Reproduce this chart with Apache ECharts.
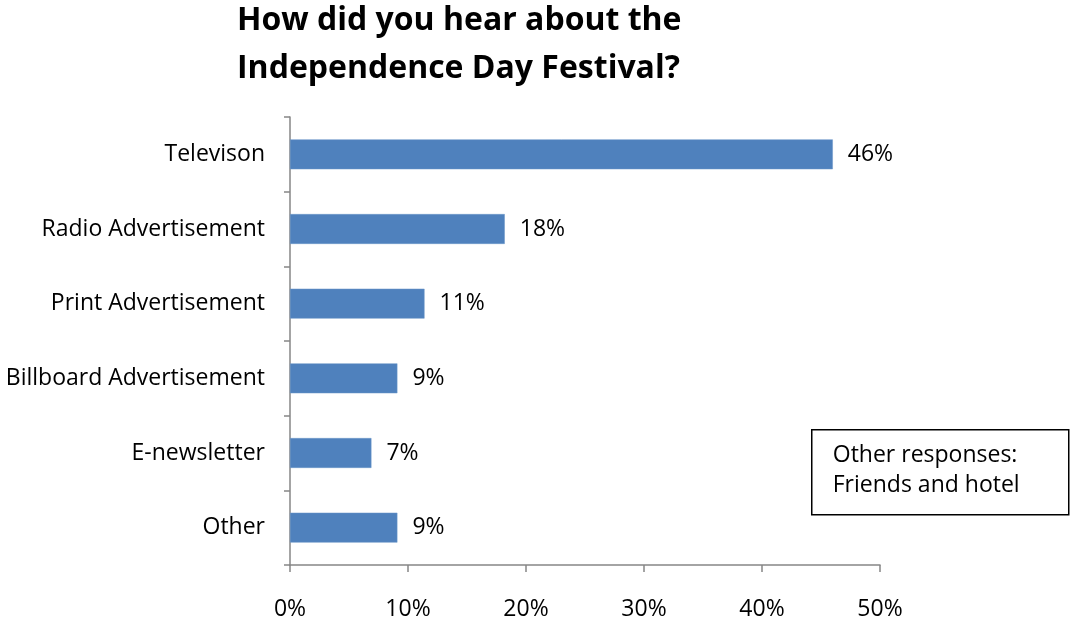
<!DOCTYPE html>
<html>
<head>
<meta charset="utf-8">
<script src="https://cdn.jsdelivr.net/npm/echarts@6/dist/echarts.min.js"></script>
<style>html,body{margin:0;padding:0;background:#fff}#c{width:1073px;height:624px}</style>
</head>
<body>
<div id="c"></div>
<script>
var categories = ["Televison", "Radio Advertisement", "Print Advertisement", "Billboard Advertisement", "E-newsletter", "Other"];
var values = [46.0, 18.2, 11.4, 9.1, 6.9, 9.1];
var valueLabels = ["46%", "18%", "11%", "9%", "7%", "9%"];
var xTicks = [0, 10, 20, 30, 40, 50];
var titleLines = ["How did you hear about the", "Independence Day Festival?"];
var noteLines = ["Other responses:", "Friends and hotel"];

var FONT = 'Open Sans';
var chart = echarts.init(document.getElementById('c'));
chart.setOption({
  animation: false,
  title: {
    text: titleLines.join('\n'),
    left: 232, top: -8,
    textStyle: { fontFamily: FONT, fontWeight: 'bold', fontSize: 32, lineHeight: 48, color: '#000' }
  },
  grid: { left: 290, right: 193, top: 117, bottom: 59 },
  xAxis: {
    type: 'value', min: xTicks[0], max: xTicks[xTicks.length - 1], interval: xTicks[1] - xTicks[0],
    axisLine: { show: true, lineStyle: { color: '#868686', width: 1.5 } },
    axisTick: { show: true, length: 7, lineStyle: { color: '#868686', width: 1.5 } },
    splitLine: { show: false },
    axisLabel: { margin: 33, fontFamily: FONT, fontSize: 23, color: '#000', formatter: function (v) { return v + '%'; } }
  },
  yAxis: {
    type: 'category', data: categories, inverse: true,
    axisLine: { show: true, lineStyle: { color: '#868686', width: 1.5 } },
    axisTick: { show: true, length: 6, lineStyle: { color: '#868686', width: 1.5 } },
    axisLabel: { margin: 25, fontFamily: FONT, fontSize: 23, color: '#000' }
  },
  series: [{
    type: 'bar', data: values, barWidth: '40%',
    itemStyle: { color: '#4F81BD', borderColor: '#6B96C8', borderWidth: 0.5 },
    label: {
      show: true, position: 'right', distance: 15,
      fontFamily: FONT, fontSize: 23, color: '#000',
      formatter: function (p) { return valueLabels[p.dataIndex]; }
    }
  }],
  graphic: [{
    type: 'group', left: 811, top: 429,
    children: [
      { type: 'rect', shape: { x: 0, y: 0, width: 257, height: 85 }, style: { fill: '#fff', stroke: '#000', lineWidth: 1.5 } },
      { type: 'text', x: 21, y: 11, style: { text: noteLines.join('\n'), fontFamily: FONT, fontSize: 23, lineHeight: 30, fill: '#000' } }
    ]
  }]
});
</script>
</body>
</html>
